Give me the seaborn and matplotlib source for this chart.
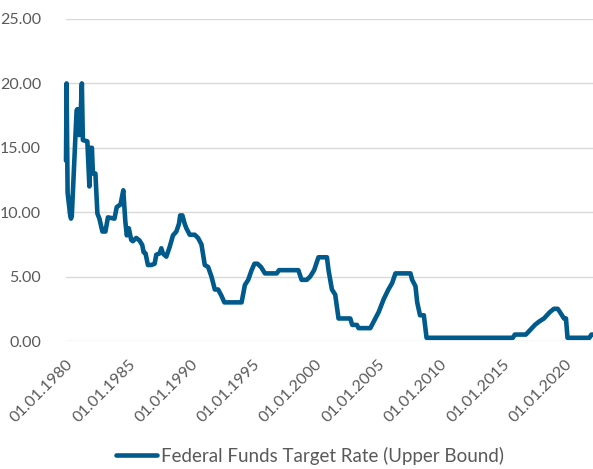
import matplotlib
matplotlib.use("Agg")
import matplotlib.pyplot as plt
import matplotlib.dates as mdates
import matplotlib.transforms as mtransforms
import pandas as pd
import seaborn as sns

# Federal Funds target rate (upper bound), change points, in percent
dates = [
    "1980-01-01", "1980-01-18", "1980-02-17", "1980-05-06", "1980-05-27", "1980-06-19",
    "1980-11-07", "1980-11-28", "1980-12-28", "1981-02-10", "1981-04-10", "1981-05-09",
    "1981-09-18", "1981-11-16", "1981-12-30", "1982-01-29", "1982-02-28", "1982-05-12",
    "1982-07-09", "1982-09-06", "1982-12-03", "1983-03-01", "1983-05-14", "1983-11-21",
    "1984-01-28", "1984-05-16", "1984-08-06", "1984-10-04", "1984-11-17", "1985-01-15",
    "1985-03-26", "1985-05-12", "1985-08-20", "1985-11-25", "1986-02-13", "1986-03-24",
    "1986-05-21", "1986-07-28", "1986-11-05", "1987-02-10", "1987-03-31", "1987-07-06",
    "1987-08-25", "1987-10-11", "1988-01-19", "1988-04-26", "1988-08-01", "1988-11-09",
    "1989-01-24", "1989-02-28", "1989-05-04", "1989-07-10", "1989-08-29", "1989-12-05",
    "1990-05-01", "1990-08-06", "1990-11-14", "1991-02-19", "1991-05-27", "1991-09-04",
    "1991-12-10", "1992-03-16", "1992-06-24", "1992-09-15", "1994-02-02", "1994-05-10",
    "1994-08-15", "1994-11-23", "1995-02-14", "1995-05-12", "1995-08-23", "1995-12-19",
    "1996-11-27", "1997-02-04", "1998-08-24", "1998-11-26", "1999-04-27", "1999-08-04",
    "1999-11-29", "2000-04-04", "2000-12-08", "2001-01-24", "2001-05-03", "2001-08-08",
    "2001-11-13", "2002-10-23", "2002-12-20", "2003-05-07", "2003-06-23", "2004-06-02",
    "2004-09-08", "2005-02-02", "2005-06-29", "2005-11-14", "2006-03-03", "2006-06-08",
    "2007-08-22", "2007-10-11", "2008-01-16", "2008-03-07", "2008-05-28", "2008-09-17",
    "2008-12-06", "2015-11-08", "2016-01-06", "2016-11-24", "2017-02-21", "2017-05-20",
    "2017-08-16", "2017-12-12", "2018-05-08", "2018-08-04", "2018-10-31", "2019-02-26",
    "2019-06-14", "2019-08-20", "2019-10-18", "2019-12-16", "2020-02-13", "2020-03-29",
    "2021-12-30", "2022-02-27", "2022-04-15",
]
rates = [
    14.0, 20.0, 11.5, 9.7, 9.5, 9.7,
    17.9, 18.0, 16.0, 16.0, 20.0, 15.6,
    15.5, 12.0, 15.0, 15.0, 13.0, 13.0,
    9.9, 9.5, 8.5, 8.5, 9.6, 9.5,
    10.4, 10.6, 11.7, 9.3, 8.2, 8.75,
    7.85, 7.75, 8.0, 7.8, 7.45, 6.9,
    6.8, 5.9, 5.9, 6.0, 6.7, 6.8,
    7.2, 6.8, 6.55, 7.3, 8.2, 8.5,
    9.1, 9.75, 9.75, 9.1, 8.75, 8.25,
    8.25, 8.0, 7.5, 5.9, 5.75, 5.0,
    4.0, 4.0, 3.5, 3.0, 3.0, 4.35,
    4.75, 5.5, 6.0, 6.0, 5.75, 5.25,
    5.25, 5.5, 5.5, 4.75, 4.75, 5.0,
    5.5, 6.5, 6.5, 5.5, 4.0, 3.6,
    1.75, 1.75, 1.25, 1.25, 1.0, 1.0,
    1.5, 2.25, 3.25, 4.0, 4.5, 5.25,
    5.25, 4.75, 4.25, 3.0, 2.0, 2.0,
    0.25, 0.25, 0.5, 0.5, 0.75, 1.0,
    1.25, 1.5, 1.75, 2.0, 2.25, 2.5,
    2.5, 2.25, 2.0, 1.75, 1.75, 0.25,
    0.25, 0.5, 0.5,
]
series_name = "Federal Funds Target Rate (Upper Bound)"
tick_years = [1980, 1985, 1990, 1995, 2000, 2005, 2010, 2015, 2020]
y_ticks = [0, 5, 10, 15, 20, 25]

df = pd.DataFrame({"date": pd.to_datetime(dates), "rate": rates})

sns.set_theme(style="white")
plt.rcParams["font.family"] = ["Lato", "DejaVu Sans"]

text_color = "#595959"
line_color = "#005A8C"

fig = plt.figure(figsize=(5.93, 4.69), dpi=100)
ax = fig.add_axes([0.1113, 0.2729, 0.8887, 0.6866])

sns.lineplot(data=df, x="date", y="rate", ax=ax, color=line_color,
             linewidth=3.3, sort=False, legend=False)
for ln in ax.get_lines():
    ln.set_clip_on(False)
    ln.set_solid_joinstyle("round")

ax.set_ylim(0, 25)
ax.set_yticks(y_ticks)
ax.yaxis.set_major_formatter(matplotlib.ticker.FuncFormatter(lambda v, p: f"{v:.2f}"))
ax.set_xlim(pd.Timestamp("1980-01-01"), pd.Timestamp("2022-04-15"))
ax.set_xticks([pd.Timestamp(f"{y}-01-01") for y in tick_years])
ax.xaxis.set_major_formatter(mdates.DateFormatter("%d.%m.%Y"))

ax.grid(axis="y", color="#d9d9d9", linewidth=1.0)
ax.grid(axis="x", visible=False)
for s in ax.spines.values():
    s.set_visible(False)
ax.set_xlabel("")
ax.set_ylabel("")
ax.tick_params(axis="y", length=0, pad=18, labelsize=11.5, labelcolor=text_color)
ax.tick_params(axis="x", length=0, pad=15, labelsize=11.5, labelcolor=text_color)
shift = mtransforms.ScaledTranslation(5 / 100, 0, fig.dpi_scale_trans)
for lab in ax.get_xticklabels():
    lab.set_rotation(45)
    lab.set_ha("right")
    lab.set_va("center")
    lab.set_rotation_mode("anchor")
    lab.set_transform(lab.get_transform() + shift)

handles = [matplotlib.lines.Line2D([], [], color=line_color, linewidth=3.3)]
fig.legend(handles, [series_name], loc="center", bbox_to_anchor=(0.522, 0.028),
           frameon=False, fontsize=13.5, labelcolor=text_color,
           handlelength=2.2, handletextpad=0.2)

fig.savefig("out.png", dpi=100)
